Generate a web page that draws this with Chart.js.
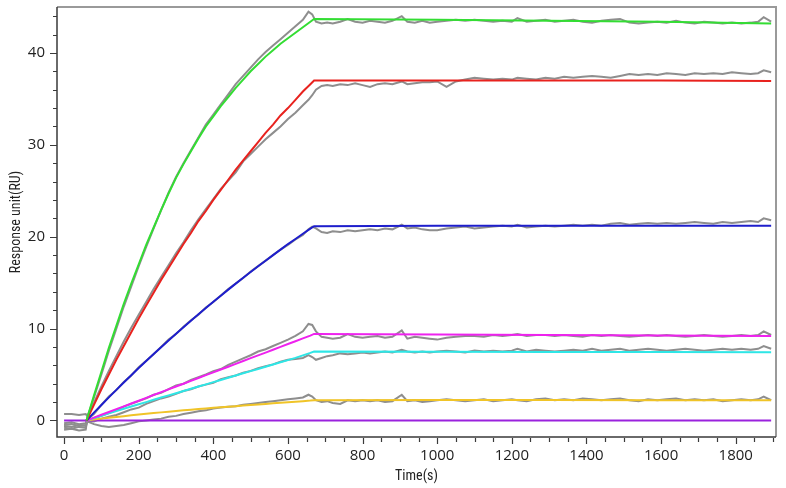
<!DOCTYPE html>
<html><head><meta charset="utf-8">
<script src="https://cdn.jsdelivr.net/npm/chart.js@4.4.1/dist/chart.umd.min.js"></script>
<style>html,body{margin:0;padding:0;background:#fff}</style>
</head><body>
<canvas id="c" width="786" height="488"></canvas>
<script>
// ---- tick labels ----
const xTickLabels = [0, 200, 400, 600, 800, 1000, 1200, 1400, 1600, 1800];
const yTickLabels = [0, 10, 20, 30, 40];

// ---- measured (gray) sensorgrams ----
const grayT = [0,20,40,58,
  62,80,100,120,140,160,180,200,220,240,260,280,300,320,340,360,380,400,420,440,460,480,500,520,540,560,580,600,620,640,655,665,
  675,690,705,720,740,760,780,800,820,840,860,880,905,920,940,960,980,1000,1025,1050,1075,1100,1125,1150,1175,1200,1215,1240,1265,1290,1315,1340,1365,1390,1415,1440,1465,1490,1515,1540,1565,1590,1615,1640,1665,1690,1715,1740,1765,1790,1815,1840,1860,1875,1895];

const gray1 = [-0.5,-0.4,-0.6,-0.5,
  0.3,2.5,5.0,7.6,10.0,12.4,14.6,16.8,18.9,20.9,22.9,24.8,26.5,28.0,29.4,30.8,32.2,33.3,34.4,35.5,36.6,37.5,38.4,39.3,40.1,40.8,41.5,42.2,42.9,43.6,44.5,44.2,
  43.4,43.2,43.3,43.2,43.4,43.7,43.4,43.3,43.5,43.4,43.3,43.5,44.0,43.4,43.3,43.5,43.3,43.4,43.5,43.6,43.5,43.6,43.5,43.4,43.5,43.4,43.8,43.4,43.5,43.6,43.4,43.5,43.6,43.4,43.3,43.5,43.6,43.7,43.3,43.2,43.3,43.4,43.3,43.5,43.3,43.2,43.4,43.3,43.2,43.3,43.2,43.3,43.4,43.9,43.4];

const gray2 = [0.7,0.7,0.6,0.7,
  0.5,1.9,3.7,5.4,7.0,8.6,10.1,11.5,12.9,14.3,15.6,16.9,18.2,19.4,20.7,21.9,23.0,24.1,25.2,26.1,27.0,28.2,29.0,29.8,30.6,31.3,32.0,32.8,33.5,34.3,34.9,35.4,
  36.0,36.4,36.5,36.4,36.6,36.5,36.7,36.5,36.3,36.6,36.7,36.6,36.9,36.6,36.7,36.8,36.8,36.9,36.3,36.9,37.1,37.3,37.2,37.1,37.2,37.1,37.3,37.2,37.1,37.3,37.2,37.4,37.3,37.4,37.5,37.4,37.3,37.5,37.7,37.6,37.7,37.6,37.8,37.7,37.6,37.8,37.7,37.8,37.7,37.9,37.8,37.7,37.8,38.1,37.9];

const gray3 = [-0.8,-0.9,-0.7,-0.8,
  0.1,0.7,1.7,2.6,3.3,4.2,4.9,5.8,6.5,7.2,8.0,8.8,9.4,10.2,10.9,11.5,12.3,12.9,13.6,14.3,14.9,15.5,16.2,16.8,17.4,18.0,18.6,19.1,19.7,20.2,20.8,21.1,
  20.9,20.5,20.4,20.6,20.5,20.7,20.6,20.7,20.8,20.7,20.9,20.8,21.3,20.9,21.0,20.8,20.7,20.7,20.9,21.0,21.1,20.9,21.0,21.1,21.2,21.1,21.3,21.0,21.1,21.2,21.1,21.2,21.3,21.2,21.3,21.2,21.4,21.5,21.3,21.4,21.5,21.4,21.5,21.4,21.5,21.6,21.5,21.4,21.6,21.5,21.6,21.7,21.6,22.0,21.8];

const gray4 = [-1.0,-0.9,-1.1,-1.0,
  0.1,0.2,0.5,0.8,1.1,1.5,1.8,2.1,2.4,2.8,3.0,3.4,3.8,4.0,4.4,4.7,5.0,5.35,5.6,6.05,6.4,6.75,7.1,7.5,7.75,8.1,8.45,8.8,9.2,9.7,10.5,10.4,
  9.7,9.1,9.0,8.9,9.0,9.4,9.1,9.0,9.1,9.2,9.0,9.1,9.8,8.9,9.1,9.0,8.9,8.8,9.0,9.1,9.2,9.2,9.1,9.3,9.2,9.3,9.4,9.2,9.3,9.3,9.2,9.3,9.2,9.1,9.3,9.2,9.3,9.2,9.1,9.2,9.3,9.2,9.3,9.2,9.1,9.2,9.3,9.2,9.1,9.2,9.3,9.2,9.3,9.7,9.3];

const gray5 = [-0.3,-0.2,-0.4,-0.3,
  0.0,-0.1,0.2,0.4,0.6,0.9,1.2,1.4,1.8,2.1,2.4,2.6,2.9,3.2,3.4,3.7,3.9,4.1,4.5,4.7,4.9,5.2,5.4,5.7,5.9,6.1,6.4,6.6,6.7,6.8,7.1,6.9,
  6.6,6.8,7.0,7.1,7.3,7.2,7.3,7.4,7.3,7.4,7.5,7.4,7.7,7.5,7.4,7.5,7.4,7.5,7.6,7.5,7.4,7.6,7.5,7.6,7.5,7.6,7.8,7.5,7.7,7.6,7.5,7.6,7.7,7.6,7.8,7.6,7.7,7.8,7.6,7.7,7.8,7.7,7.6,7.7,7.8,7.7,7.6,7.7,7.8,7.7,7.8,7.7,7.8,8.1,7.8];

const gray6 = [-0.6,-0.7,-0.5,-0.6,
  -0.1,-0.4,-0.6,-0.7,-0.6,-0.5,-0.3,-0.1,0.0,0.1,0.2,0.4,0.5,0.7,0.85,1.0,1.1,1.3,1.4,1.5,1.55,1.7,1.8,1.9,2.0,2.1,2.2,2.3,2.4,2.5,2.8,2.6,
  2.2,2.0,2.1,1.9,1.8,2.2,2.1,2.2,2.1,2.2,2.0,2.1,2.8,2.1,2.2,2.0,2.1,2.2,2.3,2.2,2.1,2.2,2.3,2.1,2.2,2.3,2.2,2.1,2.3,2.4,2.2,2.3,2.2,2.4,2.3,2.2,2.3,2.4,2.2,2.1,2.3,2.2,2.3,2.4,2.2,2.3,2.2,2.3,2.1,2.2,2.3,2.2,2.3,2.6,2.2];

// ---- fitted curves ----
const fitT = [60,80,100,120,140,160,180,200,220,240,260,280,300,320,340,360,380,400,420,440,460,480,500,520,540,560,580,600,620,640,660,670,1000,1300,1600,1895];
const greenFit   = [0,2.7,5.3,7.9,10.3,12.7,14.9,17.0,19.1,21.0,22.9,24.7,26.4,27.9,29.3,30.7,32.0,33.1,34.2,35.2,36.2,37.1,38.0,38.8,39.6,40.3,41.0,41.6,42.2,42.8,43.4,43.7,43.6,43.5,43.4,43.2];
const redFit     = [0,1.7,3.4,5.0,6.6,8.1,9.6,11.1,12.5,13.9,15.3,16.6,17.9,19.2,20.4,21.7,22.8,24.0,25.1,26.2,27.3,28.3,29.3,30.3,31.3,32.2,33.2,34.0,34.9,35.8,36.6,37.0,37.0,37.0,37.0,36.95];
const blueFit    = [0,0.85,1.69,2.51,3.33,4.13,4.92,5.70,6.47,7.23,7.97,8.71,9.44,10.15,10.86,11.56,12.24,12.92,13.58,14.24,14.89,15.53,16.16,16.78,17.39,17.99,18.59,19.2,19.75,20.32,20.88,21.15,21.2,21.2,21.2,21.2];
const magentaFit = [0,0.31,0.62,0.92,1.23,1.54,1.85,2.15,2.46,2.77,3.08,3.39,3.70,4.0,4.31,4.62,4.93,5.24,5.54,5.85,6.16,6.47,6.78,7.08,7.39,7.70,8.01,8.32,8.62,8.93,9.24,9.42,9.35,9.3,9.25,9.18];
const cyanFit    = [0,0.26,0.52,0.77,1.02,1.27,1.52,1.76,2.0,2.25,2.49,2.73,2.97,3.21,3.45,3.69,3.93,4.17,4.41,4.65,4.89,5.13,5.37,5.61,5.85,6.09,6.33,6.57,6.81,7.08,7.35,7.5,7.48,7.46,7.44,7.42];
const yellowFit  = [0,0.1,0.2,0.29,0.38,0.47,0.56,0.64,0.72,0.8,0.88,0.96,1.03,1.1,1.17,1.24,1.31,1.38,1.44,1.5,1.56,1.62,1.68,1.74,1.8,1.86,1.92,1.98,2.04,2.1,2.16,2.2,2.22,2.22,2.21,2.2];
const purpleT    = [0, 1895];
const purpleFit  = [0, 0];

function pts(t, v) { return t.map((x, i) => ({ x: x, y: v[i] })); }

const GRAY = '#8e8e8e';
function grayDS(v) {
  return { data: pts(grayT, v), borderColor: GRAY, borderWidth: 2, pointRadius: 0, order: 2 };
}
function fitDS(t, v, c) {
  return { data: pts(t, v), borderColor: c, borderWidth: 2, pointRadius: 0, order: 1 };
}

const framePlugin = {
  id: 'frame',
  afterDatasetsDraw(chart) {
    const ctx = chart.ctx, a = chart.chartArea;
    const xs = chart.scales.x, ys = chart.scales.y;
    ctx.save();
    ctx.lineCap = 'butt';
    ctx.strokeStyle = '#9a9a9a'; ctx.lineWidth = 2;
    ctx.beginPath();
    ctx.moveTo(a.left, a.top); ctx.lineTo(a.right, a.top); ctx.lineTo(a.right, a.bottom);
    ctx.stroke();
    ctx.strokeStyle = '#3a3a3a'; ctx.lineWidth = 1.5;
    ctx.beginPath();
    ctx.moveTo(a.left, a.top); ctx.lineTo(a.left, a.bottom); ctx.lineTo(a.right, a.bottom);
    ctx.stroke();
    ctx.lineWidth = 1.2; ctx.strokeStyle = '#3a3a3a';
    ctx.beginPath();
    for (let v = 0; v <= xs.max; v += 50) {
      const px = Math.round(xs.getPixelForValue(v)) + 0.5;
      const len = (v % 200 === 0) ? 6 : 4;
      ctx.moveTo(px, a.bottom + 1); ctx.lineTo(px, a.bottom + 1 + len);
    }
    for (let v = 0; v <= ys.max; v += 2) {
      const py = Math.round(ys.getPixelForValue(v)) + 0.5;
      const len = (v % 10 === 0) ? 7 : 4;
      ctx.moveTo(a.left - len, py); ctx.lineTo(a.left, py);
    }
    ctx.stroke();
    ctx.restore();
  }
};

const tickFont = { family: "'Open Sans', 'DejaVu Sans', sans-serif", size: 15 };
const titleFont = { family: "'Liberation Sans Narrow', 'Roboto Condensed', 'Roboto', sans-serif", size: 14 };

new Chart(document.getElementById('c'), {
  type: 'line',
  data: {
    datasets: [
      fitDS(fitT, greenFit, '#33dd33'),
      fitDS(fitT, redFit, '#e8221e'),
      fitDS(fitT, blueFit, '#1e1ecc'),
      fitDS(fitT, magentaFit, '#ee22ee'),
      fitDS(fitT, cyanFit, '#2ee6e6'),
      fitDS(fitT, yellowFit, '#f0c428'),
      fitDS(purpleT, purpleFit, '#9a22dd'),
      grayDS(gray1), grayDS(gray2), grayDS(gray3), grayDS(gray4), grayDS(gray5), grayDS(gray6)
    ]
  },
  options: {
    responsive: false,
    animation: false,
    devicePixelRatio: 1,
    layout: { padding: { top: 7, right: 10, left: 0, bottom: 0 } },
    plugins: { legend: { display: false }, tooltip: { enabled: false } },
    elements: { line: { tension: 0 } },
    scales: {
      x: {
        type: 'linear', min: -19, max: 1908,
        afterFit: (s) => { s.height = 51; s.paddingLeft = 0; s.paddingRight = 0; },
        afterBuildTicks: (s) => { s.ticks = xTickLabels.map(v => ({ value: v })); },
        grid: { display: false }, border: { display: false },
        ticks: { font: tickFont, color: '#222', padding: 2, maxRotation: 0, autoSkip: false, callback: (v) => String(v) },
        title: { display: true, text: 'Time(s)', font: titleFont, color: '#222', padding: { top: 0, bottom: 3 } }
      },
      y: {
        type: 'linear', min: -1.8, max: 45.0,
        afterFit: (s) => { s.width = 57; s.paddingTop = 0; s.paddingBottom = 0; },
        afterBuildTicks: (s) => { s.ticks = yTickLabels.map(v => ({ value: v })); },
        grid: { display: false, drawTicks: false }, border: { display: false },
        ticks: { font: tickFont, color: '#222', padding: 12, autoSkip: false, callback: (v) => String(v) },
        title: { display: true, text: 'Response unit(RU)', font: titleFont, color: '#222', padding: { top: 8, bottom: 0 } }
      }
    }
  },
  plugins: [framePlugin]
});
</script>
</body></html>
